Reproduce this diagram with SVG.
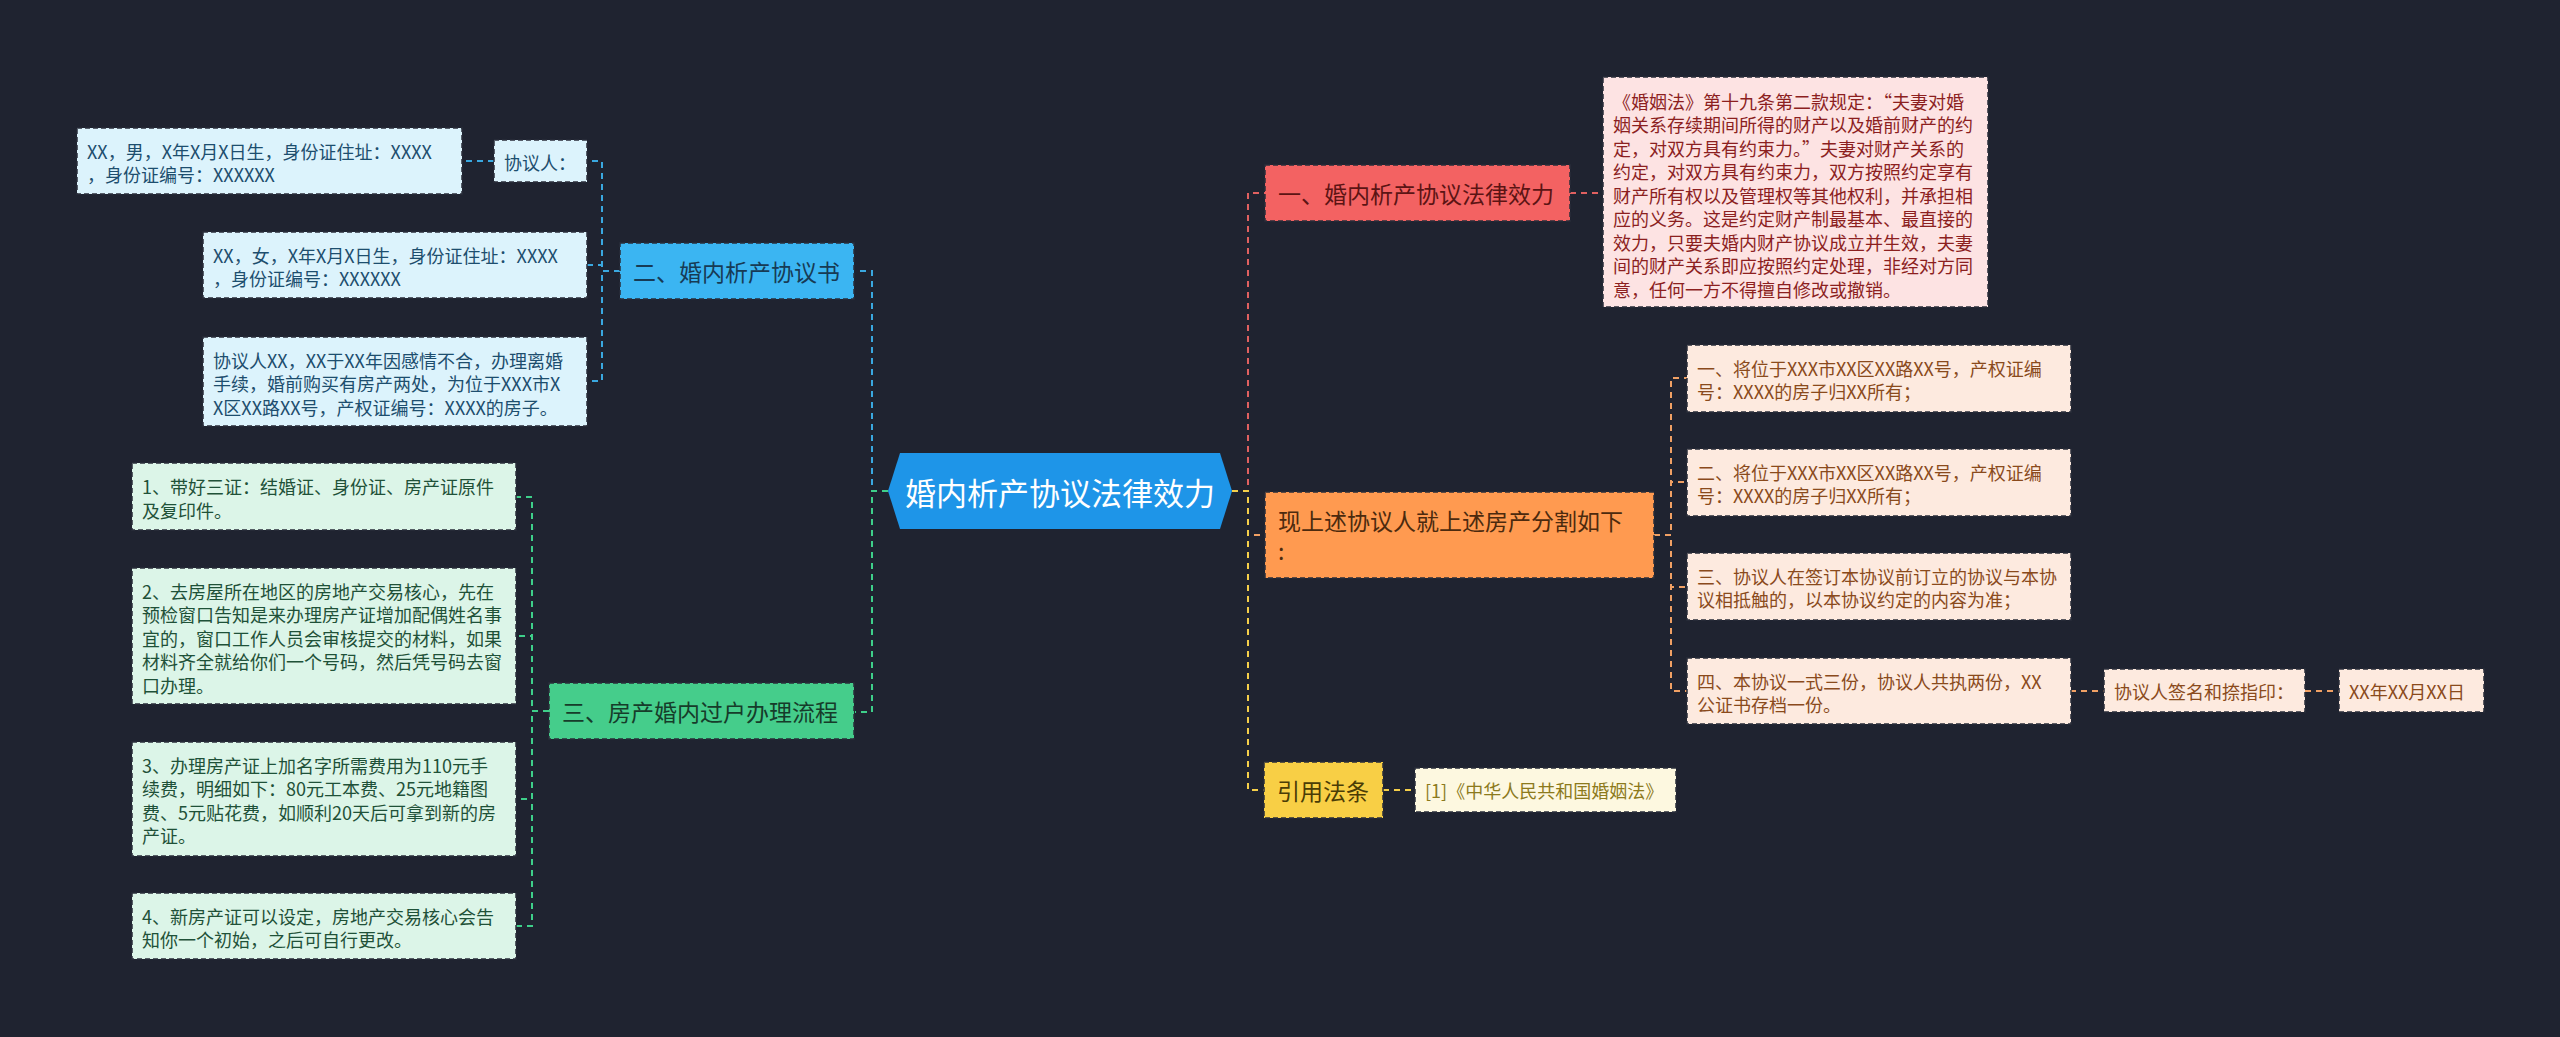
<svg xmlns="http://www.w3.org/2000/svg" width="2560" height="1037" viewBox="0 0 2560 1037">
<style>
text{font-family:"Noto Sans CJK SC","Noto Sans",sans-serif;dominant-baseline:central}
.leaf{font-size:18px}
.main{font-size:23px}
.box{stroke:#2a2e3a;stroke-width:1.5;stroke-dasharray:5 3}
.c{fill:none;stroke-width:2;stroke-dasharray:6 5}
.cb{stroke:#3aa8e0}.cg{stroke:#3ecf8a}.cr{stroke:#e06060}.co{stroke:#f0a064}.cy{stroke:#f5cf4a}
.nb{fill:#3bb5f2}.tb{fill:#173b55}.lb{fill:#dcf3fc}.ltb{fill:#1d4e6e}
.ng{fill:#45cd8b}.tg{fill:#163c2a}.lg{fill:#dcf5e8}.ltg{fill:#1f5138}
.nr{fill:#f36262}.tr{fill:#5c1414}.lr{fill:#fde3e3}.ltr{fill:#8c1f1f}
.no{fill:#ff9a50}.to{fill:#4c2a0e}.lo{fill:#fdeadf}.lto{fill:#8a4a1c}
.ny{fill:#f8cf45}.ty{fill:#4a3c06}.ly{fill:#fdf8e0}.lty{fill:#8c7a1c}
</style>
<rect x="0" y="0" width="2560" height="1037" fill="#1f2330"/>

<g id="connectors">
  <path class="c cb" d="M888,491 H872 V271 H855"/>
  <path class="c cg" d="M888,491 H872 V712 H855"/>
  <path class="c cr" d="M1232,491 H1248 V193 H1265"/>
  <path class="c co" d="M1232,491 H1248 V535 H1265"/>
  <path class="c cy" d="M1232,491 H1248 V790 H1264"/>
  <path class="c cb" d="M620,271 H602 V161 H587"/>
  <path class="c cb" d="M620,271 H602 V265 H587"/>
  <path class="c cb" d="M620,271 H602 V381 H587"/>
  <path class="c cb" d="M494,161 H462"/>
  <path class="c cg" d="M549,711 H532 V497 H516"/>
  <path class="c cg" d="M549,711 H532 V636 H516"/>
  <path class="c cg" d="M549,711 H532 V799 H516"/>
  <path class="c cg" d="M549,711 H532 V926 H516"/>
  <path class="c cr" d="M1570,193 H1603"/>
  <path class="c co" d="M1654,535 H1671 V378 H1687"/>
  <path class="c co" d="M1654,535 H1671 V482 H1687"/>
  <path class="c co" d="M1654,535 H1671 V587 H1687"/>
  <path class="c co" d="M1654,535 H1671 V691 H1687"/>
  <path class="c co" d="M2070,691 H2104"/>
  <path class="c co" d="M2305,691 H2339"/>
  <path class="c cy" d="M1383,790 H1415"/>
</g>

<g id="root">
  <polygon points="888,491 900,453 1220,453 1232,491 1220,529 900,529" fill="#1e95e8"/>
  <text x="1060" y="491" text-anchor="middle" font-size="31" fill="#ffffff">婚内析产协议法律效力</text>
</g>

<g id="n-er">
  <rect class="box nb" x="620" y="243" width="234" height="56"/>
  <text class="main tb" x="633" y="271">二、婚内析产协议书</text>
</g>
<g id="n-xieyiren">
  <rect class="box lb" x="494" y="140" width="93" height="42"/>
  <text class="leaf ltb" x="504" y="161.5">协议人：</text>
</g>
<g id="n-nan">
  <rect class="box lb" x="77" y="128" width="385" height="66"/>
  <text class="leaf ltb" x="87" y="150.5">XX，男，X年X月X日生，身份证住址：XXXX</text>
  <text class="leaf ltb" x="87" y="174">，身份证编号：XXXXXX</text>
</g>
<g id="n-nv">
  <rect class="box lb" x="203" y="232" width="384" height="66"/>
  <text class="leaf ltb" x="213" y="254.5">XX，女，X年X月X日生，身份证住址：XXXX</text>
  <text class="leaf ltb" x="213" y="278">，身份证编号：XXXXXX</text>
</g>
<g id="n-xieyi-xx">
  <rect class="box lb" x="203" y="337" width="384" height="89"/>
  <text class="leaf ltb" x="213" y="359.5">协议人XX，XX于XX年因感情不合，办理离婚</text>
  <text class="leaf ltb" x="213" y="383">手续，婚前购买有房产两处，为位于XXX市X</text>
  <text class="leaf ltb" x="213" y="406.5">X区XX路XX号，产权证编号：XXXX的房子。</text>
</g>

<g id="n-san">
  <rect class="box ng" x="549" y="683" width="305" height="56"/>
  <text class="main tg" x="562" y="711">三、房产婚内过户办理流程</text>
</g>
<g id="n-step1">
  <rect class="box lg" x="132" y="463" width="384" height="67"/>
  <text class="leaf ltg" x="142" y="486">1、带好三证：结婚证、身份证、房产证原件</text>
  <text class="leaf ltg" x="142" y="509.5">及复印件。</text>
</g>
<g id="n-step2">
  <rect class="box lg" x="132" y="568" width="384" height="136"/>
  <text class="leaf ltg" x="142" y="590.5">2、去房屋所在地区的房地产交易核心，先在</text>
  <text class="leaf ltg" x="142" y="614">预检窗口告知是来办理房产证增加配偶姓名事</text>
  <text class="leaf ltg" x="142" y="637.5">宜的，窗口工作人员会审核提交的材料，如果</text>
  <text class="leaf ltg" x="142" y="661">材料齐全就给你们一个号码，然后凭号码去窗</text>
  <text class="leaf ltg" x="142" y="684.5">口办理。</text>
</g>
<g id="n-step3">
  <rect class="box lg" x="132" y="742" width="384" height="114"/>
  <text class="leaf ltg" x="142" y="764.5">3、办理房产证上加名字所需费用为110元手</text>
  <text class="leaf ltg" x="142" y="788">续费，明细如下：80元工本费、25元地籍图</text>
  <text class="leaf ltg" x="142" y="811.5">费、5元贴花费，如顺利20天后可拿到新的房</text>
  <text class="leaf ltg" x="142" y="835">产证。</text>
</g>
<g id="n-step4">
  <rect class="box lg" x="132" y="893" width="384" height="66"/>
  <text class="leaf ltg" x="142" y="915.5">4、新房产证可以设定，房地产交易核心会告</text>
  <text class="leaf ltg" x="142" y="939">知你一个初始，之后可自行更改。</text>
</g>

<g id="n-yi">
  <rect class="box nr" x="1265" y="165" width="305" height="56"/>
  <text class="main tr" x="1278" y="193">一、婚内析产协议法律效力</text>
</g>
<g id="n-law">
  <rect class="box lr" x="1603" y="77" width="385" height="230"/>
  <text class="leaf ltr" x="1613" y="100.5">《婚姻法》第十九条第二款规定：“夫妻对婚</text>
  <text class="leaf ltr" x="1613" y="124">姻关系存续期间所得的财产以及婚前财产的约</text>
  <text class="leaf ltr" x="1613" y="147.5">定，对双方具有约束力。”夫妻对财产关系的</text>
  <text class="leaf ltr" x="1613" y="171">约定，对双方具有约束力，双方按照约定享有</text>
  <text class="leaf ltr" x="1613" y="194.5">财产所有权以及管理权等其他权利，并承担相</text>
  <text class="leaf ltr" x="1613" y="218">应的义务。这是约定财产制最基本、最直接的</text>
  <text class="leaf ltr" x="1613" y="241.5">效力，只要夫婚内财产协议成立并生效，夫妻</text>
  <text class="leaf ltr" x="1613" y="265">间的财产关系即应按照约定处理，非经对方同</text>
  <text class="leaf ltr" x="1613" y="288.5">意，任何一方不得擅自修改或撤销。</text>
</g>

<g id="n-split">
  <rect class="box no" x="1265" y="492" width="389" height="86"/>
  <text class="main to" x="1278" y="520">现上述协议人就上述房产分割如下</text>
  <text class="main to" x="1278" y="550">:</text>
</g>
<g id="n-split1">
  <rect class="box lo" x="1687" y="345" width="384" height="67"/>
  <text class="leaf lto" x="1697" y="367.5">一、将位于XXX市XX区XX路XX号，产权证编</text>
  <text class="leaf lto" x="1697" y="391">号：XXXX的房子归XX所有；</text>
</g>
<g id="n-split2">
  <rect class="box lo" x="1687" y="449" width="384" height="67"/>
  <text class="leaf lto" x="1697" y="471.5">二、将位于XXX市XX区XX路XX号，产权证编</text>
  <text class="leaf lto" x="1697" y="495">号：XXXX的房子归XX所有；</text>
</g>
<g id="n-split3">
  <rect class="box lo" x="1687" y="553" width="384" height="67"/>
  <text class="leaf lto" x="1697" y="575.5">三、协议人在签订本协议前订立的协议与本协</text>
  <text class="leaf lto" x="1697" y="599">议相抵触的，以本协议约定的内容为准；</text>
</g>
<g id="n-split4">
  <rect class="box lo" x="1687" y="658" width="384" height="66"/>
  <text class="leaf lto" x="1697" y="680.5">四、本协议一式三份，协议人共执两份，XX</text>
  <text class="leaf lto" x="1697" y="704">公证书存档一份。</text>
</g>
<g id="n-sign">
  <rect class="box lo" x="2104" y="669" width="201" height="43"/>
  <text class="leaf lto" x="2114" y="691">协议人签名和捺指印：</text>
</g>
<g id="n-date">
  <rect class="box lo" x="2339" y="669" width="145" height="43"/>
  <text class="leaf lto" x="2349" y="691">XX年XX月XX日</text>
</g>

<g id="n-cite">
  <rect class="box ny" x="1264" y="762" width="119" height="56"/>
  <text class="main ty" x="1277" y="790">引用法条</text>
</g>
<g id="n-cite1">
  <rect class="box ly" x="1415" y="768" width="261" height="44"/>
  <text class="leaf lty" x="1425" y="790">[1]《中华人民共和国婚姻法》</text>
</g>
</svg>
